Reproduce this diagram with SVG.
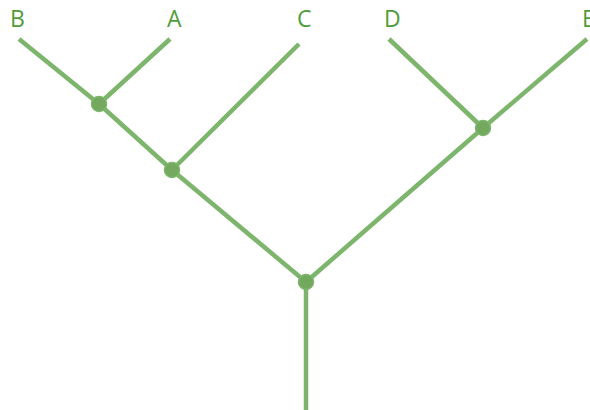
<svg xmlns="http://www.w3.org/2000/svg" width="590" height="410" viewBox="0 0 590 410">
<style>
.e{stroke:#7db56c;stroke-width:4.5;stroke-linecap:butt;fill:none}
.n{fill:#72a95f;stroke:#7db56c;stroke-width:1.5}
.t{font-family:"Open Sans","Liberation Sans",Arial,sans-serif;font-size:23px;fill:#4f9d3a}
</style>
<rect width="590" height="410" fill="#fff"/>
<g id="connectors">
<line class="e" x1="19" y1="39" x2="99" y2="104"/>
<line class="e" x1="170" y1="39" x2="99" y2="104"/>
<line class="e" x1="99" y1="104" x2="172" y2="170"/>
<line class="e" x1="299" y1="44" x2="172" y2="170"/>
<line class="e" x1="172" y1="170" x2="306" y2="282"/>
<line class="e" x1="389" y1="39" x2="483" y2="128"/>
<line class="e" x1="587" y1="39" x2="483" y2="128"/>
<line class="e" x1="483" y1="128" x2="306" y2="282"/>
<line class="e" x1="306" y1="282" x2="306" y2="410"/>
</g>
<g id="leafB"><text class="t" x="10" y="27">B</text></g>
<g id="leafA"><text class="t" x="167" y="27">A</text></g>
<g id="leafC"><text class="t" x="297" y="27">C</text></g>
<g id="leafD"><text class="t" x="384" y="27">D</text></g>
<g id="leafE"><text class="t" x="582" y="27">E</text></g>
<g id="nodeAB"><circle class="n" cx="99" cy="104" r="7.5"/></g>
<g id="nodeABC"><circle class="n" cx="172" cy="170" r="7.5"/></g>
<g id="nodeDE"><circle class="n" cx="483" cy="128" r="7.5"/></g>
<g id="root"><circle class="n" cx="306" cy="282" r="7.5"/></g>
</svg>
